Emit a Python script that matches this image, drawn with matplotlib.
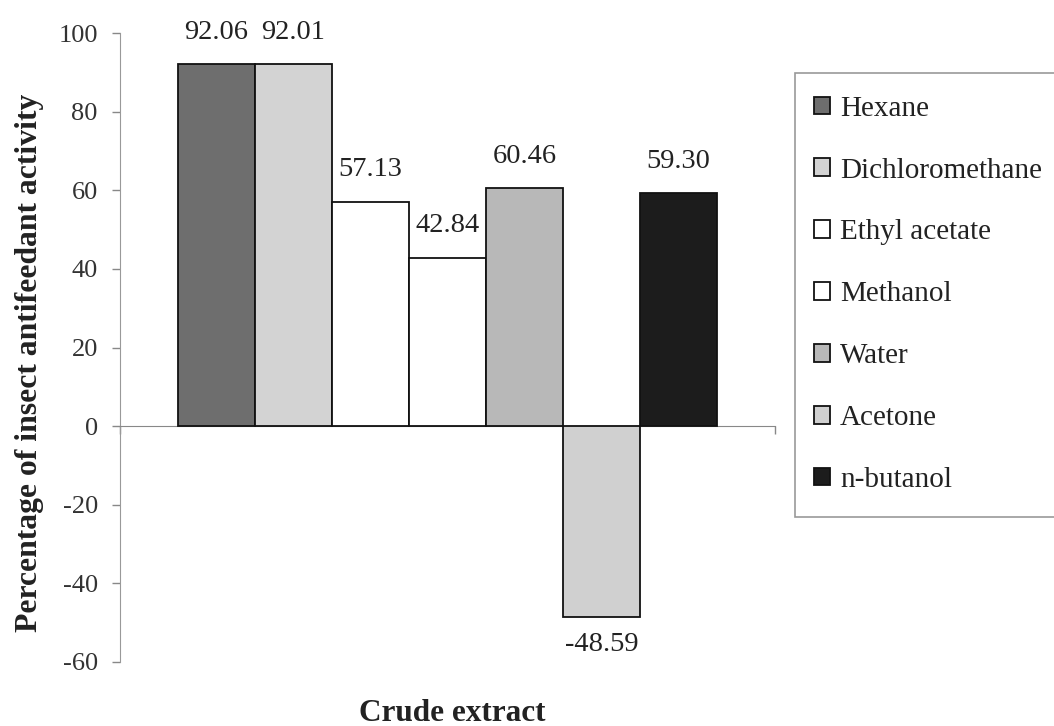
import numpy as np
import matplotlib
matplotlib.use("Agg")
import matplotlib.pyplot as plt
from matplotlib.patches import Rectangle

# Antifeedant activity of the crude extracts (%)
extracts = ['Hexane', 'Dichloromethane', 'Ethyl acetate', 'Methanol',
            'Water', 'Acetone', 'n-butanol']
activity = [92.06, 92.01, 57.13, 42.84, 60.46, -48.59, 59.30]
colors = ['#6e6e6e', '#d3d3d3', '#ffffff', '#ffffff',
          '#b8b8b8', '#d0d0d0', '#1c1c1c']
yticks = [-60, -40, -20, 0, 20, 40, 60, 80, 100]

plt.rcParams['font.family'] = ['Liberation Serif', 'DejaVu Serif']
plt.rcParams['axes.unicode_minus'] = False

fig = plt.figure(figsize=(10.54, 7.26), dpi=100)
ax = fig.add_axes([120/1054, 1 - 662/726, 655/1054, 629/726])

# one category, seven bars side by side
group = 0.823
w = group / len(extracts)
x = (np.arange(len(extracts)) - (len(extracts) - 1) / 2) * w
bars = ax.bar(x, activity, width=w, color=colors, edgecolor='#111111',
              linewidth=1.3, label=extracts, zorder=3)

for xi, v in zip(x, activity):
    off = 23 if v >= 0 else -20
    ax.annotate(f'{v:.2f}', (xi, v), xytext=(0, off), textcoords='offset points',
                ha='center', va='center', fontsize=20.5, color='#222222')

ax.set_xlim(-0.5, 0.5)
ax.set_ylim(-60, 100)
ax.set_yticks(yticks)
ax.tick_params(axis='y', direction='out', length=6, width=1, color='#888888',
               pad=10, labelsize=19, labelcolor='#333333')

# category axis drawn through zero with boundary ticks
ax.spines['bottom'].set_position(('data', 0))
ax.spines['bottom'].set_color('#888888')
ax.set_xticks([-0.5, 0.5])
ax.set_xticklabels(['', ''])
ax.tick_params(axis='x', direction='out', length=6, width=1, color='#888888')
ax.spines['left'].set_color('#999999')
ax.spines['top'].set_visible(False)
ax.spines['right'].set_visible(False)

fig.text(30/1054, 1 - 363/726, 'Percentage of insect antifeedant activity',
         rotation=90, ha='center', va='center', fontsize=22.8,
         fontweight='bold', color='#222222')
fig.text(452/1054, 1 - 721/726, 'Crude extract', ha='center', va='baseline',
         fontsize=22.5, fontweight='bold', color='#222222')

# legend box runs past the right edge
fig.patches.append(Rectangle((795/1054, 1 - 517/726), 300/1054, 444/726,
                             transform=fig.transFigure, facecolor='white',
                             edgecolor='#999999', linewidth=1.2, zorder=0))
leg = fig.legend(handles=bars, labels=extracts, loc='upper left',
                 bbox_to_anchor=(802/1054, 1 - 84/726), frameon=False,
                 fontsize=21, handlelength=0.55, handleheight=0.55,
                 handletextpad=0.35, labelspacing=1.23, borderaxespad=0)
for t in leg.get_texts():
    t.set_color('#222222')

fig.savefig('out.png', dpi=100)
